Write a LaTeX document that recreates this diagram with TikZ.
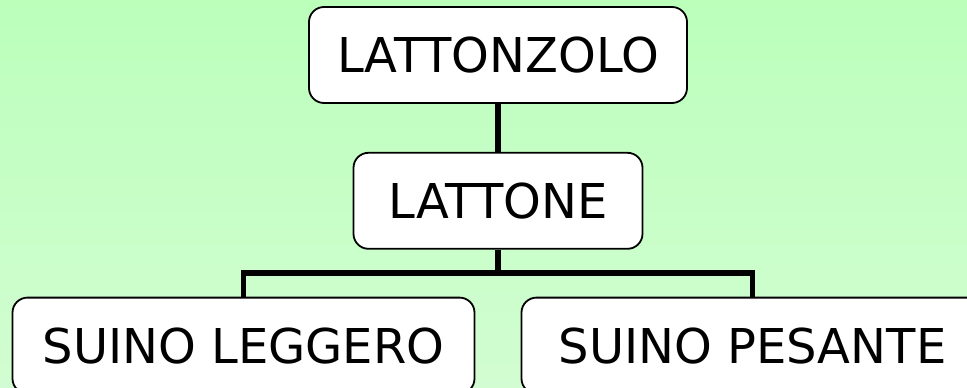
\documentclass[tikz,border=0pt]{standalone}
\usepackage{fontspec}
\setmainfont{DejaVu Sans}
\usepackage{tikz}
\usetikzlibrary{calc,positioning}
\usepackage{xcolor}
\definecolor{bgtop}{HTML}{BBFFBB}
\definecolor{bgbottom}{HTML}{D2FDD2}

\begin{document}
\begin{tikzpicture}[
        x=1pt, y=1pt,
        node distance=48pt and 47pt,
        boxstyle/.style={draw=black, line width=1.8pt, rounded corners=15pt, fill=white,
          minimum height=96pt, inner sep=0pt, font=\fontsize{48}{56}\selectfont},
        linkstyle/.style={line width=5.5pt}
      ]
        \clip (0,0) rectangle (967,-388);
        \shade[top color=bgtop, bottom color=bgbottom] (0,0) rectangle (967,-388);
        \node[boxstyle, minimum width=378pt] (LATTONZOLO)
          at (498,-55) {LATTONZOLO};
        \node[boxstyle, minimum width=289pt, below=of LATTONZOLO] (LATTONE)
          {LATTONE};
        \node[boxstyle, minimum width=462pt, anchor=north] (LEGGERO)
          at ($(LATTONE.south)+(-254.5,-47)$) {SUINO LEGGERO};
        \node[boxstyle, minimum width=462pt, anchor=north] (PESANTE)
          at ($(LATTONE.south)+(254.5,-47)$) {SUINO PESANTE};

        \draw[linkstyle] (LATTONZOLO.south) -- (LATTONE.north);
        \draw[linkstyle] (LATTONE.south) |- ($(LATTONE.south)!0.5!(LEGGERO.north)$) -| (LEGGERO.north);
        \draw[linkstyle] (LATTONE.south) |- ($(LATTONE.south)!0.5!(PESANTE.north)$) -| (PESANTE.north);
      \end{tikzpicture}
\end{document}
